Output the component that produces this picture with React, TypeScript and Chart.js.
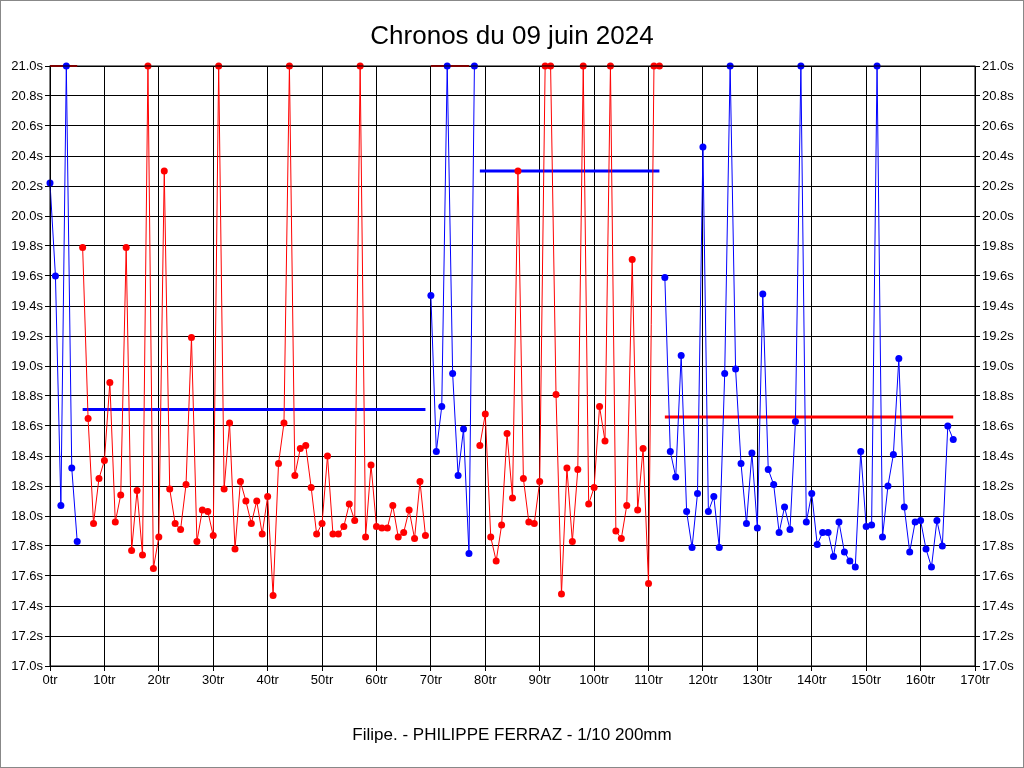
import React, { useEffect, useRef } from "react";
import { Chart, registerables } from "chart.js";
Chart.register(...registerables);

const TITLE = "Chronos du 09 juin 2024";
const FOOTER = "Filipe. - PHILIPPE FERRAZ - 1/10 200mm";

// lap times per lap (index = lap), null when the other driver is racing
const blueStint1 = [20.22, 19.6, 18.07, 21.0, 18.32, 17.83]; // laps 0-5
const redStint1 = [19.79, 18.65, 17.95, 18.25, 18.37, 18.89, 17.96, 18.14, 19.79, 17.77,
  18.17, 17.74, 21.0, 17.65, 17.86, 20.3, 18.18, 17.95, 17.91, 18.21,
  19.19, 17.83, 18.04, 18.03, 17.87, 21.0, 18.18, 18.62, 17.78, 18.23,
  18.1, 17.95, 18.1, 17.88, 18.13, 17.47, 18.35, 18.62, 21.0, 18.27,
  18.45, 18.47, 18.19, 17.88, 17.95, 18.4, 17.88, 17.88, 17.93, 18.08,
  17.97, 21.0, 17.86, 18.34, 17.93, 17.92, 17.92, 18.07, 17.86, 17.89,
  18.04, 17.85, 18.23, 17.87]; // laps 6-69
const blueStint2 = [19.47, 18.43, 18.73, 21.0, 18.95, 18.27, 18.58, 17.75, 21.0]; // laps 70-78
const redStint2 = [18.47, 18.68, 17.86, 17.7, 17.94, 18.55, 18.12, 20.3, 18.25, 17.96,
  17.95, 18.23, 21.0, 21.0, 18.81, 17.48, 18.32, 17.83, 18.31, 21.0,
  18.08, 18.19, 18.73, 18.5, 21.0, 17.9, 17.85, 18.07, 19.71, 18.04,
  18.45, 17.55, 21.0, 21.0]; // laps 79-112
const blueStint3 = [19.59, 18.43, 18.26, 19.07, 18.03, 17.79, 18.15, 20.46, 18.03, 18.13,
  17.79, 18.95, 21.0, 18.98, 18.35, 17.95, 18.42, 17.92, 19.48, 18.31,
  18.21, 17.89, 18.06, 17.91, 18.63, 21.0, 17.96, 18.15, 17.81, 17.89,
  17.89, 17.73, 17.96, 17.76, 17.7, 17.66, 18.43, 17.93, 17.94, 21.0,
  17.86, 18.2, 18.41, 19.05, 18.06, 17.76, 17.96, 17.97, 17.78, 17.66,
  17.97, 17.8, 18.6, 18.51]; // laps 113-166
const stintStarts = { blue: [0, 70, 113], red: [6, 79] };

const blueMeanRed1 = { from: 6, to: 69, value: 18.71 };
const blueMeanRed2 = { from: 79, to: 112, value: 20.3 };
const redMeanBlue3 = { from: 113, to: 166, value: 18.66 };
const redTopSegments = [[0, 5], [70, 77]];

const toPts = (starts: number[], stints: number[][]) => {
  const out: any[] = [];
  stints.forEach((s, k) => {
    s.forEach((v, i) => out.push({ x: starts[k] + i, y: v }));
    out.push({ x: starts[k] + s.length - 0.5, y: null });
  });
  return out;
};

export default function App() {
  const ref = useRef<HTMLCanvasElement>(null);
  useEffect(() => {
    document.body.style.margin = "0";
    const font = "'Liberation Sans', Arial, sans-serif";
    const redTop: any[] = [];
    redTopSegments.forEach(([a, b]) => { redTop.push({ x: a, y: 21 }, { x: b, y: 21 }, { x: b + 0.5, y: null }); });
    const line = (m: any, color: string) => ({
      data: [{ x: m.from, y: m.value }, { x: m.to, y: m.value }],
      borderColor: color, borderWidth: 3, pointRadius: 0, clip: false as any,
    });
    const frame = {
      id: "frame",
      afterDraw(c: any) {
        const ctx = c.ctx;
        ctx.save();
        ctx.strokeStyle = "#888";
        ctx.lineWidth = 1;
        ctx.strokeRect(0.5, 0.5, 1023, 767);
        ctx.fillStyle = "#000";
        ctx.textAlign = "center";
        ctx.textBaseline = "middle";
        ctx.font = `26px ${font}`;
        ctx.fillText(TITLE, 512, 37);
        ctx.font = `17px ${font}`;
        ctx.fillText(FOOTER, 512, 735);
        ctx.strokeStyle = "#000";
        const a = c.chartArea;
        ctx.strokeRect(a.left, a.top, a.right - a.left, a.bottom - a.top);
        ctx.restore();
      },
    };
    const chart = new Chart(ref.current!, {
      type: "line",
      data: {
        datasets: [
          { data: toPts(stintStarts.red, [redStint1, redStint2]), borderColor: "#ff0000", backgroundColor: "#ff0000", borderWidth: 1, pointRadius: 3.5, pointBorderWidth: 0, spanGaps: false, clip: 6 as any },
          { data: toPts(stintStarts.blue, [blueStint1, blueStint2, blueStint3]), borderColor: "#0000ff", backgroundColor: "#0000ff", borderWidth: 1, pointRadius: 3.5, pointBorderWidth: 0, spanGaps: false, clip: 6 as any },
          { data: redTop, borderColor: "#ff0000", borderWidth: 2, pointRadius: 0, spanGaps: false, clip: 6 as any },
          line(blueMeanRed1, "#0000ff"),
          line(blueMeanRed2, "#0000ff"),
          line(redMeanBlue3, "#ff0000"),
        ],
      },
      options: {
        animation: false,
        responsive: false,
        layout: { padding: { top: 66, bottom: 0, left: 0, right: 0 } },
        plugins: { legend: { display: false }, tooltip: { enabled: false }, title: { display: false } },
        scales: {
          x: {
            type: "linear", min: 0, max: 170,
            afterFit: (s: any) => { s.height = 102; },
            ticks: { stepSize: 10, color: "#000", font: { family: font, size: 13 }, callback: (v: any) => v + "tr", maxRotation: 0, padding: 2 },
            grid: { color: "#000", tickLength: 5 }, border: { color: "#000" },
          },
          y: {
            min: 17, max: 21, position: "left",
            afterFit: (s: any) => { s.width = 50; },
            ticks: { stepSize: 0.2, color: "#000", font: { family: font, size: 13 }, callback: (v: any) => Number(v).toFixed(1) + "s", padding: 2 },
            grid: { color: "#000", tickLength: 5 }, border: { color: "#000" },
          },
          y2: {
            min: 17, max: 21, position: "right",
            afterFit: (s: any) => { s.width = 49; },
            ticks: { stepSize: 0.2, color: "#000", font: { family: font, size: 13 }, callback: (v: any) => Number(v).toFixed(1) + "s", padding: 2 },
            grid: { drawOnChartArea: false, color: "#000", tickLength: 5 }, border: { color: "#000" },
          },
        },
      } as any,
      plugins: [frame],
    });
    return () => chart.destroy();
  }, []);
  return <canvas ref={ref} width={1024} height={768} style={{ display: "block", width: 1024, height: 768 }} />;
}
